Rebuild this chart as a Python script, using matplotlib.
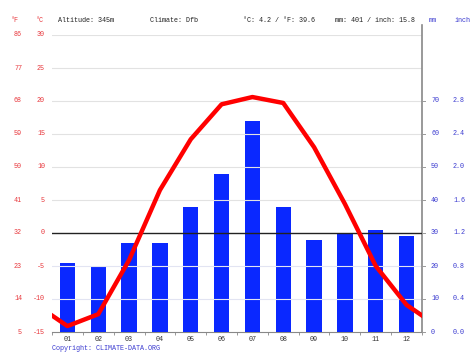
import numpy as np
import matplotlib.pyplot as plt

months = ["01", "02", "03", "04", "05", "06", "07", "08", "09", "10", "11", "12"]
temp_c = [-14.1, -12.3, -4.1, 6.5, 14.2, 19.5, 20.6, 19.7, 13.0, 4.4, -5.0, -10.9]
precip_mm = [21, 20, 27, 27, 38, 48, 64, 38, 28, 30, 31, 29]

c_ticks = [30, 25, 20, 15, 10, 5, 0, -5, -10, -15]
f_ticks = [86, 77, 68, 59, 50, 41, 32, 23, 14, 5]
mm_ticks = [70, 60, 50, 40, 30, 20, 10, 0]
inch_ticks = ["2.8", "2.4", "2.0", "1.6", "1.2", "0.8", "0.4", "0.0"]

header = ["Altitude: 345m", "Climate: Dfb", "°C: 4.2 / °F: 39.6", "mm: 401 / inch: 15.8"]
header_x = [58, 150, 243, 335]

red = "#e8383d"
blue = "#3a3ad0"
font = "Liberation Mono"
fs = 4.9

fig = plt.figure(figsize=(4.74, 3.55), dpi=100)
ax = fig.add_axes([52/474, 23/355, 370/474, 297/355])
ax2 = ax.twinx()

x = np.arange(1, 13)

# precipitation bars (mm axis, 0..90 lines up with -15..30 C)
ax.bar(x, precip_mm, width=0.5, color="#0a28ff", zorder=3)
ax.set_ylim(0, 90)
ax.set_xlim(0.5, 12.5)

# gridlines
for t in c_ticks:
    if t > 0:
        ax2.axhline(t, color="#e2e2e2", lw=0.8, zorder=0)
    elif -15 < t < 0:
        ax2.axhline(t, color="#e2e4f2", lw=0.8, zorder=0)
ax2.axhline(0, color="#222222", lw=1.0, zorder=4)

# temperature line, wrapped so it runs off both edges
tx = [0] + list(x) + [13]
ty = [temp_c[-1]] + temp_c + [temp_c[0]]
ax2.plot(tx, ty, color="#ff0000", lw=3.2, solid_joinstyle="round", zorder=5)
ax2.set_ylim(-15, 30)
ax2.set_xlim(0.5, 12.5)

ax.set_zorder(0)
ax2.set_zorder(1)
ax2.patch.set_visible(False)

for a in (ax, ax2):
    a.set_yticks([])
    a.spines["top"].set_visible(False)
    a.spines["left"].set_visible(False)
ax2.spines["right"].set_color("#888888")
ax2.spines["right"].set_linewidth(1.2)
ax2.spines["right"].set_bounds(-15, 31.5)
ax.spines["right"].set_visible(False)
ax.spines["bottom"].set_color("#888888")
ax2.spines["bottom"].set_visible(False)

ax.set_xticks(x)
ax.set_xticklabels(months, fontsize=fs, family=font, color="#333333")
ax.tick_params(axis="x", length=0, pad=3)
ax.set_xticks(np.arange(0.5, 13, 1), minor=True)
ax.tick_params(axis="x", which="minor", length=2.5, color="#888888", direction="out")

# left labels (F and C)
for c, f in zip(c_ticks, f_ticks):
    yf = 23/355 + (c + 15) / 45 * 297/355
    fig.text(22/474, yf, str(f), fontsize=fs, family=font, color=red, ha="right", va="center")
    fig.text(45/474, yf, str(c), fontsize=fs, family=font, color=red, ha="right", va="center")

# right labels (mm and inch)
for m, i in zip(mm_ticks, inch_ticks):
    yf = 23/355 + m / 90 * 297/355
    fig.text(431/474, yf, str(m), fontsize=fs, family=font, color=blue, ha="left", va="center")
    fig.text(453/474, yf, i, fontsize=fs, family=font, color=blue, ha="left", va="center")
    fig.add_artist(plt.Line2D([422/474, 425/474], [yf, yf], color="#999999", lw=0.7))

# header
hy = 1 - 20/355
fig.text(11/474, hy, "°F", fontsize=fs, family=font, color=red, va="center")
fig.text(36/474, hy, "°C", fontsize=fs, family=font, color=red, va="center")
for t, hx in zip(header, header_x):
    fig.text(hx/474, hy, t, fontsize=fs, family=font, color="#222222", va="center")
fig.text(429/474, hy, "mm", fontsize=fs, family=font, color=blue, va="center")
fig.text(455/474, hy, "inch", fontsize=fs, family=font, color=blue, va="center")

fig.text(52/474, 1 - 348/355, "Copyright: CLIMATE-DATA.ORG", fontsize=fs, family=font,
         color=blue, va="center")

fig.savefig("out.png", dpi=100)
